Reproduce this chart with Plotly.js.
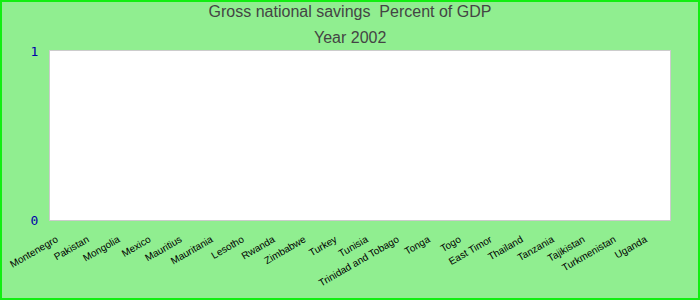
<!DOCTYPE html>
<html>
<head>
<meta charset="utf-8">
<script src="https://cdn.plot.ly/plotly-3.0.1.min.js"></script>
<style>
  html, body { margin: 0; padding: 0; background: #90ee90; }
  #wrap { position: relative; width: 700px; height: 300px; }
  #chart { width: 700px; height: 300px; }
  #frame { position: absolute; left: 0; top: 0; width: 700px; height: 300px; box-sizing: border-box; border: 2px solid #11ee11; pointer-events: none; }
</style>
</head>
<body>
<div id="wrap"><div id="chart"></div><div id="frame"></div></div>
<script>
const countries = ["Montenegro", "Pakistan", "Mongolia", "Mexico", "Mauritius", "Mauritania", "Lesotho", "Rwanda", "Zimbabwe", "Turkey", "Tunisia", "Trinidad and Tobago", "Tonga", "Togo", "East Timor", "Thailand", "Tanzania", "Tajikistan", "Turkmenistan", "Uganda"];
const savings = [null, null, null, null, null, null, null, null, null, null, null, null, null, null, null, null, null, null, null, null];
const yTickValues = [0, 1];
const yTickLabels = ["0", "1"];
const titleLine1 = "Gross national savings\u00a0 Percent of GDP";
const titleLine2 = "Year 2002";

const trace = {
  type: "bar",
  x: countries,
  y: savings,
  marker: { color: "#3366cc" },
  hoverinfo: "x+y"
};

const labelShift = 0.3;

const layout = {
  width: 700,
  height: 300,
  margin: { l: 50, r: 30, t: 51, b: 80, pad: 0 },
  paper_bgcolor: "#90ee90",
  plot_bgcolor: "#ffffff",
  showlegend: false,
  title: {
    text: titleLine1,
    font: { family: "Liberation Sans, Arial, sans-serif", size: 16, color: "#444444" },
    x: 0.5, xanchor: "center",
    xref: "container", yref: "container",
    y: 1 - 6 / 300, yanchor: "top"
  },
  annotations: [{
    text: titleLine2,
    xref: "paper", yref: "paper",
    x: 0.5 - 10 / 620, xanchor: "center",
    y: (220 - 27) / 169, yanchor: "top",
    showarrow: false,
    font: { family: "Liberation Sans, Arial, sans-serif", size: 16, color: "#444444" }
  }],
  xaxis: {
    type: "category",
    range: [-0.5 + labelShift, countries.length - 0.5 + labelShift],
    tickangle: -30,
    tickfont: { family: "Liberation Sans, Arial, sans-serif", size: 10, color: "#000000" },
    showgrid: false,
    zeroline: false,
    showline: true,
    linecolor: "#cccccc",
    linewidth: 1,
    mirror: true,
    ticks: "",
    ticklabelstandoff: 9,
    automargin: false
  },
  yaxis: {
    range: [0, 1],
    tickvals: yTickValues,
    ticktext: yTickLabels,
    tickfont: { family: "DejaVu Sans Mono, monospace", size: 13, color: "#0000aa" },
    showgrid: false,
    zeroline: false,
    showline: true,
    linecolor: "#cccccc",
    linewidth: 1,
    mirror: true,
    ticks: "",
    ticklabelstandoff: 8,
    automargin: false,
    fixedrange: true
  }
};

Plotly.newPlot("chart", [trace], layout, { displayModeBar: false, staticPlot: true });
</script>
</body>
</html>
